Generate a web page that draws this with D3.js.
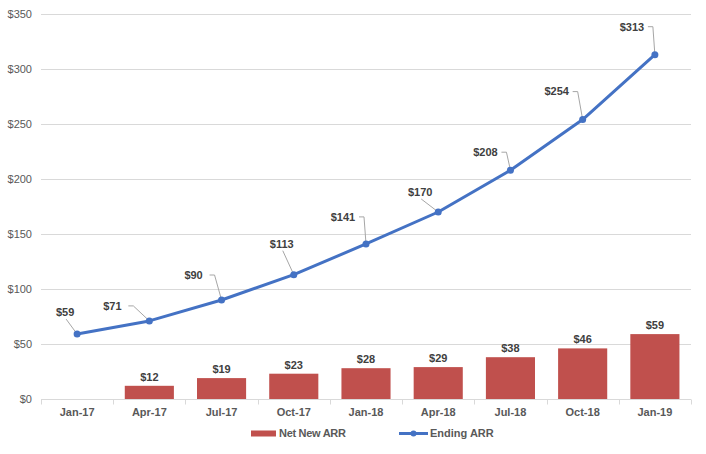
<!DOCTYPE html>
<html>
<head>
<meta charset="utf-8">
<script src="https://cdn.jsdelivr.net/npm/d3@7"></script>
<style>
  body { margin: 0; background: #fff; }
  svg { font-family: "Liberation Sans", Arial, sans-serif; }
</style>
</head>
<body>
<svg id="chart" width="706" height="454"></svg>
<script>
// quarters on the x axis
const categories = ["Jan-17", "Apr-17", "Jul-17", "Oct-17", "Jan-18", "Apr-18", "Jul-18", "Oct-18", "Jan-19"];
// Net New ARR (bars), null = no bar
const netNewArr = [null, 12, 19, 23, 28, 29, 38, 46, 59];
// Ending ARR (line)
const endingArr = [59, 71, 90, 113, 141, 170, 208, 254, 313];
const yTicks = [0, 50, 100, 150, 200, 250, 300, 350];

// where each line label sits relative to its point (dx, dy) and whether it has an elbow
const lineLabelOffsets = [
    {dx: -12, dy: -22, elbow: false},
    {dx: -37, dy: -15, elbow: true},
    {dx: -28, dy: -25, elbow: true},
    {dx: -12, dy: -31, elbow: false},
    {dx: -23, dy: -27, elbow: true},
    {dx: -18, dy: -20, elbow: false},
    {dx: -25, dy: -18, elbow: true},
    {dx: -26, dy: -28, elbow: true},
    {dx: -23, dy: -28, elbow: true}
];

const margin = {top: 14, right: 15, bottom: 55, left: 41};
const width = 706 - margin.left - margin.right;
const height = 454 - margin.top - margin.bottom;

const svg = d3.select("#chart");
const g = svg.append("g")
    .attr("transform", "translate(" + margin.left + "," + margin.top + ")");

const x = d3.scaleBand().domain(categories).range([0, width]).paddingInner(0.32).paddingOuter(0.16);
const xb = d3.scaleBand().domain(categories).range([0, width]);
const y = d3.scaleLinear().domain([0, 350]).range([height, 0]);

// gridlines
g.append("g")
    .selectAll("line")
    .data(yTicks.slice(1))
    .enter()
    .append("line")
    .attr("x1", 0)
    .attr("x2", width)
    .attr("y1", d => Math.round(y(d)) + 0.5)
    .attr("y2", d => Math.round(y(d)) + 0.5)
    .attr("stroke", "#d9d9d9");

// y labels
g.append("g")
    .selectAll("text")
    .data(yTicks)
    .enter()
    .append("text")
    .attr("x", -9)
    .attr("y", d => y(d))
    .attr("dy", "0.35em")
    .attr("text-anchor", "end")
    .attr("font-size", 11)
    .attr("fill", "#595959")
    .text(d => "$" + d);

// bars
const barData = categories.map((c, i) => ({c: c, v: netNewArr[i]})).filter(d => d.v != null);
g.append("g")
    .selectAll("rect")
    .data(barData)
    .enter()
    .append("rect")
    .attr("x", d => x(d.c))
    .attr("width", x.bandwidth())
    .attr("y", d => y(d.v))
    .attr("height", d => height - y(d.v))
    .attr("fill", "#c0504d");

// bar labels
g.append("g")
    .selectAll("text")
    .data(barData)
    .enter()
    .append("text")
    .attr("x", d => x(d.c) + x.bandwidth() / 2)
    .attr("y", d => y(d.v) - 9)
    .attr("dy", "0.35em")
    .attr("text-anchor", "middle")
    .attr("font-size", 11)
    .attr("font-weight", "bold")
    .attr("fill", "#404040")
    .text(d => "$" + d.v);

// x axis
const xAxis = g.append("g").attr("transform", "translate(0," + (Math.round(height) + 0.5) + ")");
xAxis.append("line")
    .attr("x1", 0).attr("x2", width)
    .attr("stroke", "#d9d9d9");
xAxis.selectAll("line.tick")
    .data(d3.range(categories.length + 1))
    .enter()
    .append("line")
    .attr("class", "tick")
    .attr("x1", i => Math.round(i * xb.step()) + 0.5)
    .attr("x2", i => Math.round(i * xb.step()) + 0.5)
    .attr("y1", 0).attr("y2", 5)
    .attr("stroke", "#d9d9d9");
xAxis.selectAll("text")
    .data(categories)
    .enter()
    .append("text")
    .attr("x", d => xb(d) + xb.bandwidth() / 2)
    .attr("y", 13)
    .attr("dy", "0.35em")
    .attr("text-anchor", "middle")
    .attr("font-size", 11)
    .attr("font-weight", "bold")
    .attr("fill", "#595959")
    .text(d => d);

// line
const pts = categories.map((c, i) => ({c: c, v: endingArr[i], px: xb(c) + xb.bandwidth() / 2, py: y(endingArr[i])}));
g.append("path")
    .datum(pts)
    .attr("fill", "none")
    .attr("stroke", "#4472c4")
    .attr("stroke-width", 3)
    .attr("stroke-linejoin", "round")
    .attr("d", d3.line().x(d => d.px).y(d => d.py));

// leader lines
g.append("g")
    .selectAll("path")
    .data(pts)
    .enter()
    .append("path")
    .attr("fill", "none")
    .attr("stroke", "#a6a6a6")
    .attr("stroke-width", 1)
    .attr("d", (d, i) => {
        const o = lineLabelOffsets[i];
        const lx = d.px + o.dx, ly = d.py + o.dy;
        if (o.elbow) {
            const sx = lx + 16;
            return "M" + sx + "," + ly + "H" + (sx + 5) + "L" + d.px + "," + d.py;
        }
        return "M" + (lx + 1) + "," + (ly + 7) + "L" + d.px + "," + d.py;
    });

g.append("g")
    .selectAll("circle")
    .data(pts)
    .enter()
    .append("circle")
    .attr("cx", d => d.px)
    .attr("cy", d => d.py)
    .attr("r", 3.5)
    .attr("fill", "#4472c4");

g.append("g")
    .selectAll("text")
    .data(pts)
    .enter()
    .append("text")
    .attr("x", (d, i) => d.px + lineLabelOffsets[i].dx)
    .attr("y", (d, i) => d.py + lineLabelOffsets[i].dy)
    .attr("dy", "0.35em")
    .attr("text-anchor", "middle")
    .attr("font-size", 11)
    .attr("font-weight", "bold")
    .attr("fill", "#404040")
    .text(d => "$" + d.v);

// legend
const legend = svg.append("g").attr("font-size", 11).attr("font-weight", "bold").attr("fill", "#595959");
legend.append("rect")
    .attr("x", 251).attr("y", 430.5).attr("width", 25).attr("height", 6)
    .attr("fill", "#c0504d");
legend.append("text")
    .attr("x", 279).attr("y", 433.5).attr("dy", "0.35em")
    .attr("letter-spacing", -0.3)
    .text("Net New ARR");
legend.append("line")
    .attr("x1", 399).attr("x2", 428).attr("y1", 433.5).attr("y2", 433.5)
    .attr("stroke", "#4472c4").attr("stroke-width", 3);
legend.append("circle")
    .attr("cx", 413.5).attr("cy", 433.5).attr("r", 3)
    .attr("fill", "#4472c4");
legend.append("text")
    .attr("x", 430).attr("y", 433.5).attr("dy", "0.35em")
    .text("Ending ARR");
</script>
</body>
</html>
